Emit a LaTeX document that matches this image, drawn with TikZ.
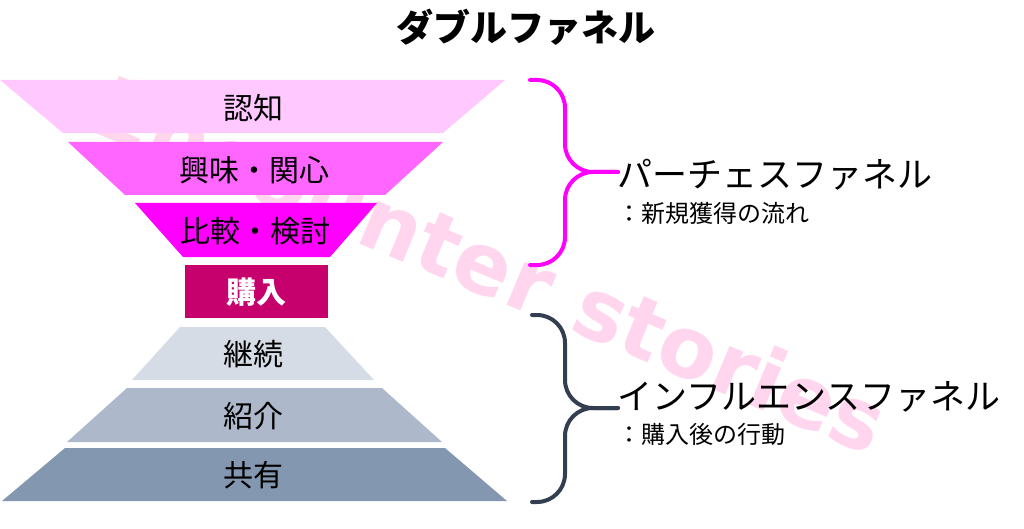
\documentclass[tikz,border=0pt]{standalone}
\usepackage{fontspec}
\newfontfamily\jp{Noto Sans CJK JP}
\newfontfamily\wmfont{DejaVu Sans}
\usetikzlibrary{positioning}

\definecolor{awareC}{HTML}{FFC9FF}
\definecolor{interestC}{HTML}{FF66FF}
\definecolor{compareC}{HTML}{FF00FF}
\definecolor{buyC}{HTML}{C6006C}
\definecolor{keepC}{HTML}{D6DCE5}
\definecolor{referC}{HTML}{ADB9CA}
\definecolor{shareC}{HTML}{8497B0}
\definecolor{braceP}{HTML}{FF00FF}
\definecolor{braceD}{HTML}{333F50}
\definecolor{wmC}{HTML}{FFD6EE}

\begin{document}
\begin{tikzpicture}[x=1pt,y=-1pt,line join=round,line cap=round,
    stage/.style={font=\jp\fontsize{30}{36}\selectfont,inner sep=0pt},
    side/.style={font=\jp\fontsize{35}{40}\selectfont,inner sep=0pt,anchor=west},
    sub/.style={font=\jp\fontsize{24}{28}\selectfont,inner sep=0pt,anchor=west},
    wmark/.style={font=\wmfont\bfseries\fontsize{85}{85}\selectfont,text=wmC,rotate=-22.7,inner sep=0pt},
    brace/.style={line width=4pt,rounded corners=28pt}]
  \useasboundingbox (0,0) rectangle (1024,529);
  % watermark behind everything
  \node[wmark,anchor=base east] (wma) at (539,319) {Encounter};
  \node[wmark,anchor=base west] (wmb) at (567,329) {stories};
  % title
  \node[font=\jp\bfseries\fontsize{37}{40}\selectfont,inner sep=0pt] (title) at (526,27) {ダブルファネル};
  % purchase funnel
  \fill[awareC] (0,80)--(505,80)--(443,133)--(63,133)--cycle;
  \node[stage] (aware) at (253,108) {認知};
  \fill[interestC] (68,142)--(443,142)--(385,195)--(125,195)--cycle;
  \node[stage] (interest) at (254,170) {興味・関心};
  \fill[compareC] (135,203)--(377,203)--(330,257)--(183,257)--cycle;
  \node[stage] (compare) at (255,231) {比較・検討};
  \fill[buyC] (185,265) rectangle (328,318);
  \node[stage,text=white,font=\jp\bfseries\fontsize{30}{36}\selectfont] (buy) at (256,292) {購入};
  % influence funnel
  \fill[keepC] (180,327)--(325,327)--(374,380)--(132,380)--cycle;
  \node[stage] (keep) at (253,354) {継続};
  \fill[referC] (127,388)--(382,388)--(442,442)--(67,442)--cycle;
  \node[stage] (refer) at (253,416) {紹介};
  \fill[shareC] (65,448)--(445,448)--(507,501)--(2,501)--cycle;
  \node[stage] (share) at (253,475) {共有};
  % braces
  \coordinate (ptip) at (618,172);
  \draw[brace,braceP] (530,80) -| (565,172) -- (ptip);
  \draw[brace,braceP] (530,265) -| (565,172) -- (ptip);
  \node[side] (purchase) at (617,175) {パーチェスファネル};
  \node[sub] (purchasesub) at (617,213) {：新規獲得の流れ};
  \coordinate (itip) at (618,408);
  \draw[brace,braceD] (532,315) -| (565,408) -- (itip);
  \draw[brace,braceD] (532,502) -| (565,408) -- (itip);
  \node[side] (influence) at (617,397) {インフルエンスファネル};
  \node[sub] (influencesub) at (617,434) {：購入後の行動};
\end{tikzpicture}
\end{document}
